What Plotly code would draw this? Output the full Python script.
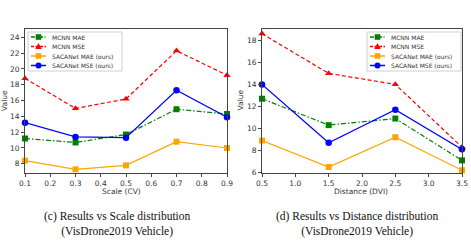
import plotly.graph_objects as go

# Data
scale_x = [0.1, 0.3, 0.5, 0.7, 0.9]
scale_mcnn_mae = [11.2, 10.7, 11.7, 14.9, 14.3]
scale_mcnn_mse = [18.8, 15.0, 16.2, 22.3, 19.2]
scale_saca_mae = [8.4, 7.3, 7.8, 10.8, 10.0]
scale_saca_mse = [13.2, 11.4, 11.3, 17.3, 13.9]

dist_x = [0.5, 1.5, 2.5, 3.5]
dist_mcnn_mae = [12.7, 10.3, 10.9, 7.1]
dist_mcnn_mse = [18.6, 15.0, 14.0, 8.3]
dist_saca_mae = [8.9, 6.5, 9.2, 6.2]
dist_saca_mse = [14.0, 8.7, 11.7, 8.1]

names = ["MCNN MAE", "MCNN MSE", "SACANet MAE (ours)", "SACANet MSE (ours)"]
colors = ["#008000", "#ff0000", "#ffa500", "#0000ff"]
dashes = ["5px,2px,1.5px,2px", "4px,2.5px", "solid", "solid"]
symbols = ["square", "triangle-up", "square", "circle"]
msizes = [6, 6.5, 6, 6.5]

W, H = 471, 252
fig = go.Figure()

def add_series(xs, ys_list, xa, ya):
    for i, ys in enumerate(ys_list):
        fig.add_trace(go.Scatter(
            x=xs, y=ys, name=names[i], mode="lines+markers",
            line=dict(color=colors[i], dash=dashes[i], width=1.2),
            marker=dict(symbol=symbols[i], size=msizes[i], color=colors[i]),
            xaxis=xa, yaxis=ya, showlegend=False, cliponaxis=False,
        ))

add_series(scale_x, [scale_mcnn_mae, scale_mcnn_mse, scale_saca_mae, scale_saca_mse], "x", "y")
add_series(dist_x, [dist_mcnn_mae, dist_mcnn_mse, dist_saca_mae, dist_saca_mse], "x2", "y2")

def px(x):
    return x / W

def py(y):
    return 1 - y / H

ydom = [py(172.5), py(29)]
axis_common = dict(
    showgrid=False, zeroline=False, showline=True, linecolor="#444444", linewidth=1,
    mirror=True, ticks="outside", ticklen=3, tickwidth=1, tickcolor="#444444",
    tickfont=dict(family="DejaVu Sans", size=7.5, color="#333333"), automargin=False,
)

fig.update_layout(
    width=W, height=H, autosize=False,
    margin=dict(l=0, r=0, t=0, b=0),
    paper_bgcolor="white", plot_bgcolor="white",
    showlegend=False,
    xaxis=dict(domain=[px(25), px(227)], range=[0.1, 0.9], tickvals=[0.1, 0.2, 0.3, 0.4, 0.5, 0.6, 0.7, 0.8, 0.9],
               ticktext=["0.1", "0.2", "0.3", "0.4", "0.5", "0.6", "0.7", "0.8", "0.9"], anchor="y", **axis_common),
    yaxis=dict(domain=ydom, range=[6.9, 25.05], tickvals=[8, 10, 12, 14, 16, 18, 20, 22, 24], anchor="x", **axis_common),
    xaxis2=dict(domain=[px(262), px(462)], range=[0.5, 3.5], tickvals=[0.5, 1.0, 1.5, 2.0, 2.5, 3.0, 3.5],
                ticktext=["0.5", "1.0", "1.5", "2.0", "2.5", "3.0", "3.5"], anchor="y2", **axis_common),
    yaxis2=dict(domain=ydom, range=[6, 19.03], tickvals=[6, 8, 10, 12, 14, 16, 18], anchor="x2", **axis_common),
)

# Custom compact legends (matplotlib style), in paper coordinates
leg_font = dict(family="DejaVu Sans", size=6, color="#333333")
row_y = [37, 46.5, 56, 65.5]
leg_dash = ["4px,1.5px,1px,1.5px", "3px,1.5px", "solid", "solid"]

def add_legend(x0, x1, y0, y1):
    fig.add_shape(type="rect", xref="paper", yref="paper", x0=px(x0), x1=px(x1), y0=py(y1), y1=py(y0),
                  line=dict(color="#d0d0d0", width=1), fillcolor="rgba(255,255,255,0.85)", layer="above")
    for i, ry in enumerate(row_y):
        lx0, lx1 = x0 + 3, x0 + 18
        mx = (lx0 + lx1) / 2
        fig.add_shape(type="line", xref="paper", yref="paper", x0=px(lx0), x1=px(lx1), y0=py(ry), y1=py(ry),
                      line=dict(color=colors[i], width=1.5, dash=leg_dash[i]), layer="above")
        s = 2.8
        if symbols[i] == "square":
            fig.add_shape(type="rect", xref="paper", yref="paper", x0=px(mx - s), x1=px(mx + s),
                          y0=py(ry + s), y1=py(ry - s), line=dict(width=0), fillcolor=colors[i], layer="above")
        elif symbols[i] == "circle":
            fig.add_shape(type="circle", xref="paper", yref="paper", x0=px(mx - 3), x1=px(mx + 3),
                          y0=py(ry + 3), y1=py(ry - 3), line=dict(width=0), fillcolor=colors[i], layer="above")
        else:
            path = "M {:.5f},{:.5f} L {:.5f},{:.5f} L {:.5f},{:.5f} Z".format(
                px(mx - 3.2), py(ry + 2.6), px(mx + 3.2), py(ry + 2.6), px(mx), py(ry - 3.4))
            fig.add_shape(type="path", xref="paper", yref="paper", path=path, line=dict(width=0),
                          fillcolor=colors[i], layer="above")
        fig.add_annotation(text=names[i], x=px(x0 + 22), y=py(ry), xref="paper", yref="paper",
                           xanchor="left", yanchor="middle", showarrow=False, font=leg_font)

add_legend(28, 122, 32, 71)
add_legend(367, 461, 32, 71)

ann_font = dict(family="DejaVu Sans", size=7.5, color="#333333")
cap_font = dict(family="Liberation Serif", size=11.5, color="#111111")
fig.add_annotation(text="Value", x=px(4.5), y=py(100.5), xref="paper", yref="paper", textangle=-90,
                   xanchor="center", yanchor="middle", showarrow=False, font=ann_font)
fig.add_annotation(text="Value", x=px(240), y=py(100.5), xref="paper", yref="paper", textangle=-90,
                   xanchor="center", yanchor="middle", showarrow=False, font=ann_font)
fig.add_annotation(text="Scale (CV)", x=px(121), y=py(191), xref="paper", yref="paper",
                   xanchor="center", yanchor="middle", showarrow=False, font=ann_font)
fig.add_annotation(text="Distance (DVI)", x=px(361), y=py(191), xref="paper", yref="paper",
                   xanchor="center", yanchor="middle", showarrow=False, font=ann_font)
fig.add_annotation(text="(c) Results vs Scale distribution<br>(VisDrone2019 Vehicle)", x=px(117), y=py(224),
                   xref="paper", yref="paper", xanchor="center", yanchor="middle",
                   showarrow=False, font=cap_font, align="center")
fig.add_annotation(text="(d) Results vs Distance distribution<br>(VisDrone2019 Vehicle)", x=px(357), y=py(224),
                   xref="paper", yref="paper", xanchor="center", yanchor="middle",
                   showarrow=False, font=cap_font, align="center")

fig.write_html("out.html", config={"displayModeBar": False},
               post_script="document.body.style.margin='0';")
